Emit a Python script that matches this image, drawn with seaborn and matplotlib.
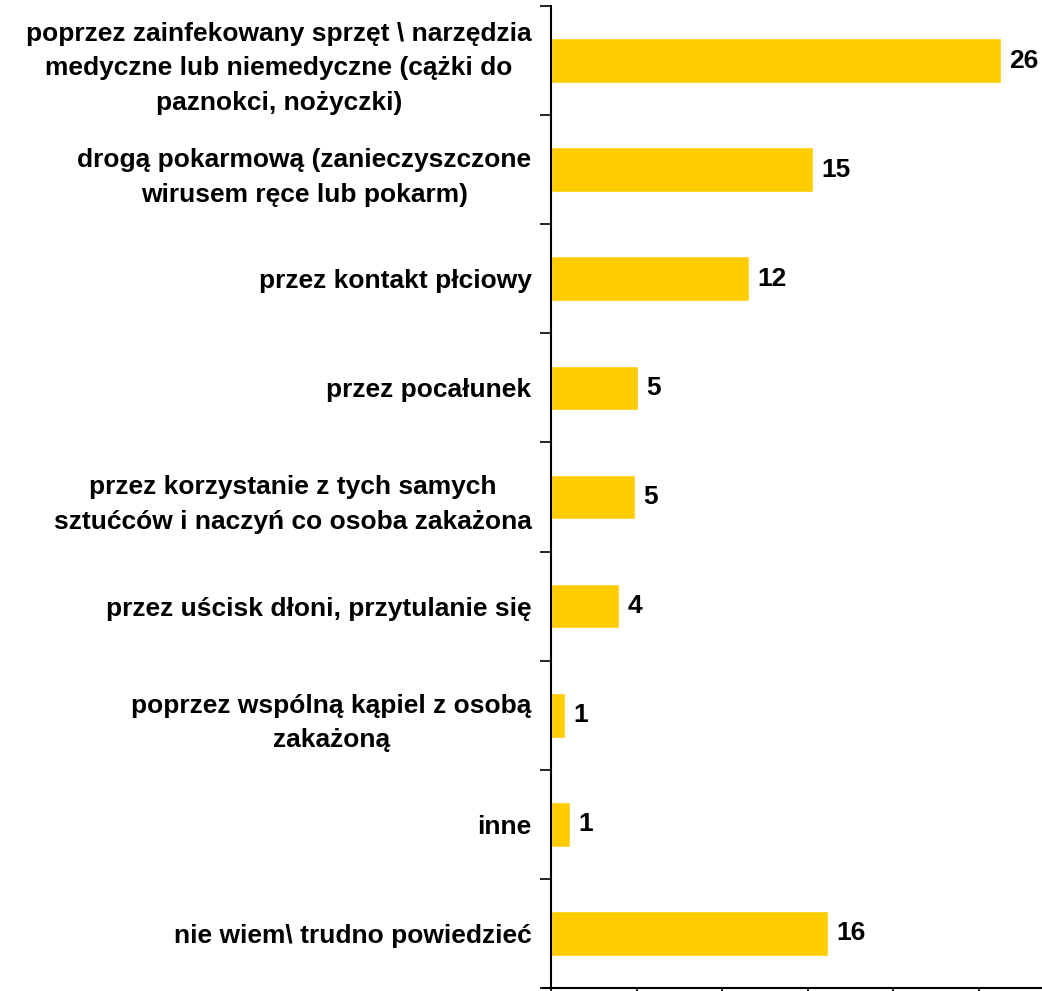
import matplotlib
matplotlib.use("Agg")
import matplotlib.pyplot as plt
import seaborn as sns
import pandas as pd
from matplotlib.lines import Line2D
from matplotlib.ticker import MultipleLocator, FixedLocator, NullFormatter

categories = [
    "poprzez zainfekowany sprzęt \\ narzędzia\nmedyczne lub niemedyczne (cążki do\npaznokci, nożyczki)",
    "drogą pokarmową (zanieczyszczone\nwirusem ręce lub pokarm)",
    "przez kontakt płciowy",
    "przez pocałunek",
    "przez korzystanie z tych samych\nsztućców i naczyń co osoba zakażona",
    "przez uścisk dłoni, przytulanie się",
    "poprzez wspólną kąpiel z osobą\nzakażoną",
    "inne",
    "nie wiem\\ trudno powiedzieć",
]
values = [26.3, 15.3, 11.6, 5.1, 4.9, 4.0, 0.8, 1.1, 16.2]
value_labels = ["26", "15", "12", "5", "5", "4", "1", "1", "16"]

sns.set_style("white")
plt.rcParams["font.family"] = ["Liberation Sans", "DejaVu Sans"]
plt.rcParams["text.color"] = "black"
plt.rcParams["ytick.labelcolor"] = "black"

df = pd.DataFrame({"cat": categories, "val": values})

fig = plt.figure(figsize=(10.42, 9.91), dpi=100)
ax = fig.add_axes([551 / 1042, 3 / 991, 491 / 1042, 982 / 991])

sns.barplot(data=df, x="val", y="cat", orient="h", color="#FFCC00",
            saturation=1, width=0.41, ax=ax)

ax.set_xlim(0, 28.7)
ax.set_ylim(len(categories) - 0.5, -0.5)
ax.set_xlabel("")
ax.set_ylabel("")

for s in ["top", "right"]:
    ax.spines[s].set_visible(False)
for s in ["left", "bottom"]:
    ax.spines[s].set_color("black")
    ax.spines[s].set_linewidth(1.5)

# small extension of the x-axis line left of the y axis
ax.add_line(Line2D([-8 / 491, 0], [0, 0], transform=ax.transAxes,
                   color="black", lw=1.5, clip_on=False))

ax.xaxis.set_major_locator(MultipleLocator(5))
ax.xaxis.set_major_formatter(NullFormatter())
ax.tick_params(axis="x", which="major", direction="out", length=6, width=1.2, color="black", bottom=True)

ax.yaxis.set_major_locator(FixedLocator(range(len(categories))))
ax.set_yticklabels(categories, fontsize=19, fontweight="bold", color="black")
ax.tick_params(axis="y", which="major", length=0, pad=14)
ax.yaxis.set_minor_locator(FixedLocator([i - 0.5 for i in range(len(categories) + 1)]))
ax.tick_params(axis="y", which="minor", direction="out", length=8, width=1.2, color="black", left=True)

for lbl in ax.get_yticklabels():
    lbl.set_multialignment("center")
    lbl.set_linespacing(1.55)

for i, (v, t) in enumerate(zip(values, value_labels)):
    ax.annotate(t, xy=(v, i), xytext=(6, 0), textcoords="offset points",
                ha="left", va="center", fontsize=19, fontweight="bold", color="black")

fig.savefig("out.png", dpi=100)
